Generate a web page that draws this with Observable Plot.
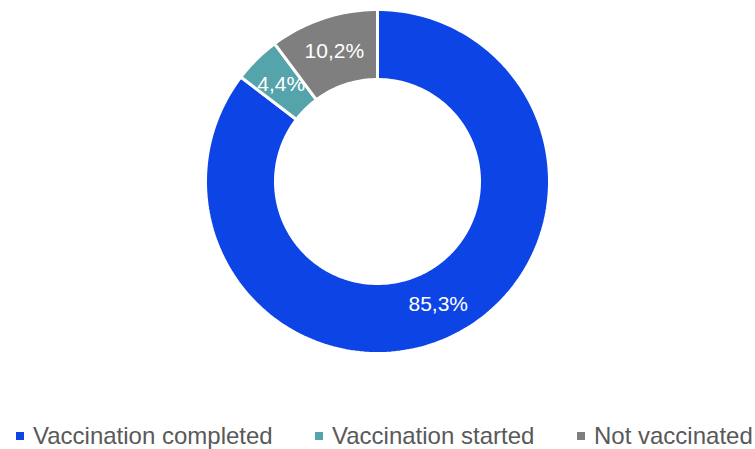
<!DOCTYPE html>
<html>
<head>
<meta charset="utf-8">
<script src="https://cdn.jsdelivr.net/npm/d3@7"></script>
<script src="https://cdn.jsdelivr.net/npm/@observablehq/plot@0.6"></script>
<style>
  html, body { margin: 0; padding: 0; background: #fff; }
  #wrap { position: relative; width: 755px; height: 449px; font-family: Arial, "Liberation Sans", sans-serif; }
  #chart { position: absolute; left: 0; top: 0; }
  .item { position: absolute; top: 421px; font-size: 24px; color: #595959; white-space: nowrap; line-height: 30px; }
  .sw { position: absolute; width: 8px; height: 8px; top: 11px; }
</style>
</head>
<body>
<div id="wrap">
  <div id="chart"></div>
  <div id="legend"></div>
</div>
<script>
const categories = ["Vaccination completed", "Vaccination started", "Not vaccinated"];
const values = [85.3, 4.4, 10.2];
const labels = ["85,3%", "4,4%", "10,2%"];
const colors = ["#0c44e6", "#55a4ab", "#7f7f7f"];

const W = 755, H = 400;
const cx = 377, cy = 181, Rpx = 172;
const inner = 102 / 172, outer = 1;

const total = d3.sum(values);
let acc = 0;
const slices = categories.map((c, i) => {
  const a0 = acc / total * 2 * Math.PI;
  acc += values[i];
  const a1 = acc / total * 2 * Math.PI;
  return {cat: c, a0, a1, label: labels[i]};
});

const pts = [];
for (const s of slices) {
  const n = Math.max(4, Math.ceil((s.a1 - s.a0) / (2 * Math.PI) * 240));
  for (let k = 0; k <= n; k++) {
    const a = s.a0 + (s.a1 - s.a0) * k / n;
    pts.push({cat: s.cat, x: outer * Math.sin(a), y: outer * Math.cos(a)});
  }
  for (let k = n; k >= 0; k--) {
    const a = s.a0 + (s.a1 - s.a0) * k / n;
    pts.push({cat: s.cat, x: inner * Math.sin(a), y: inner * Math.cos(a)});
  }
}
const mid = (outer + inner) / 2;
const labelPts = slices.map(s => {
  const a = (s.a0 + s.a1) / 2;
  return {label: s.label, x: mid * Math.sin(a), y: mid * Math.cos(a)};
});

const plot = Plot.plot({
  width: W, height: H,
  margin: 0,
  x: {domain: [-cx / Rpx, (W - cx) / Rpx], range: [0, W], axis: null},
  y: {domain: [-(H - cy) / Rpx, cy / Rpx], range: [H, 0], axis: null},
  color: {domain: categories, range: colors},
  style: {fontFamily: "Arial, 'Liberation Sans', sans-serif", background: "white"},
  marks: [
    Plot.line(pts, {x: "x", y: "y", z: "cat", fill: "cat", stroke: "white", strokeWidth: 3, curve: "linear-closed"}),
    Plot.text(labelPts, {x: "x", y: "y", text: "label", fill: "white", fontSize: 21})
  ]
});
document.getElementById("chart").appendChild(plot);

const legendX = [16, 315, 577];
const legend = document.getElementById("legend");
categories.forEach((c, i) => {
  const item = document.createElement("div");
  item.className = "item";
  item.style.left = legendX[i] + "px";
  item.style.paddingLeft = "17px";
  const sw = document.createElement("span");
  sw.className = "sw";
  sw.style.left = "0px";
  sw.style.background = colors[i];
  item.appendChild(sw);
  item.appendChild(document.createTextNode(c));
  legend.appendChild(item);
});
</script>
</body>
</html>
